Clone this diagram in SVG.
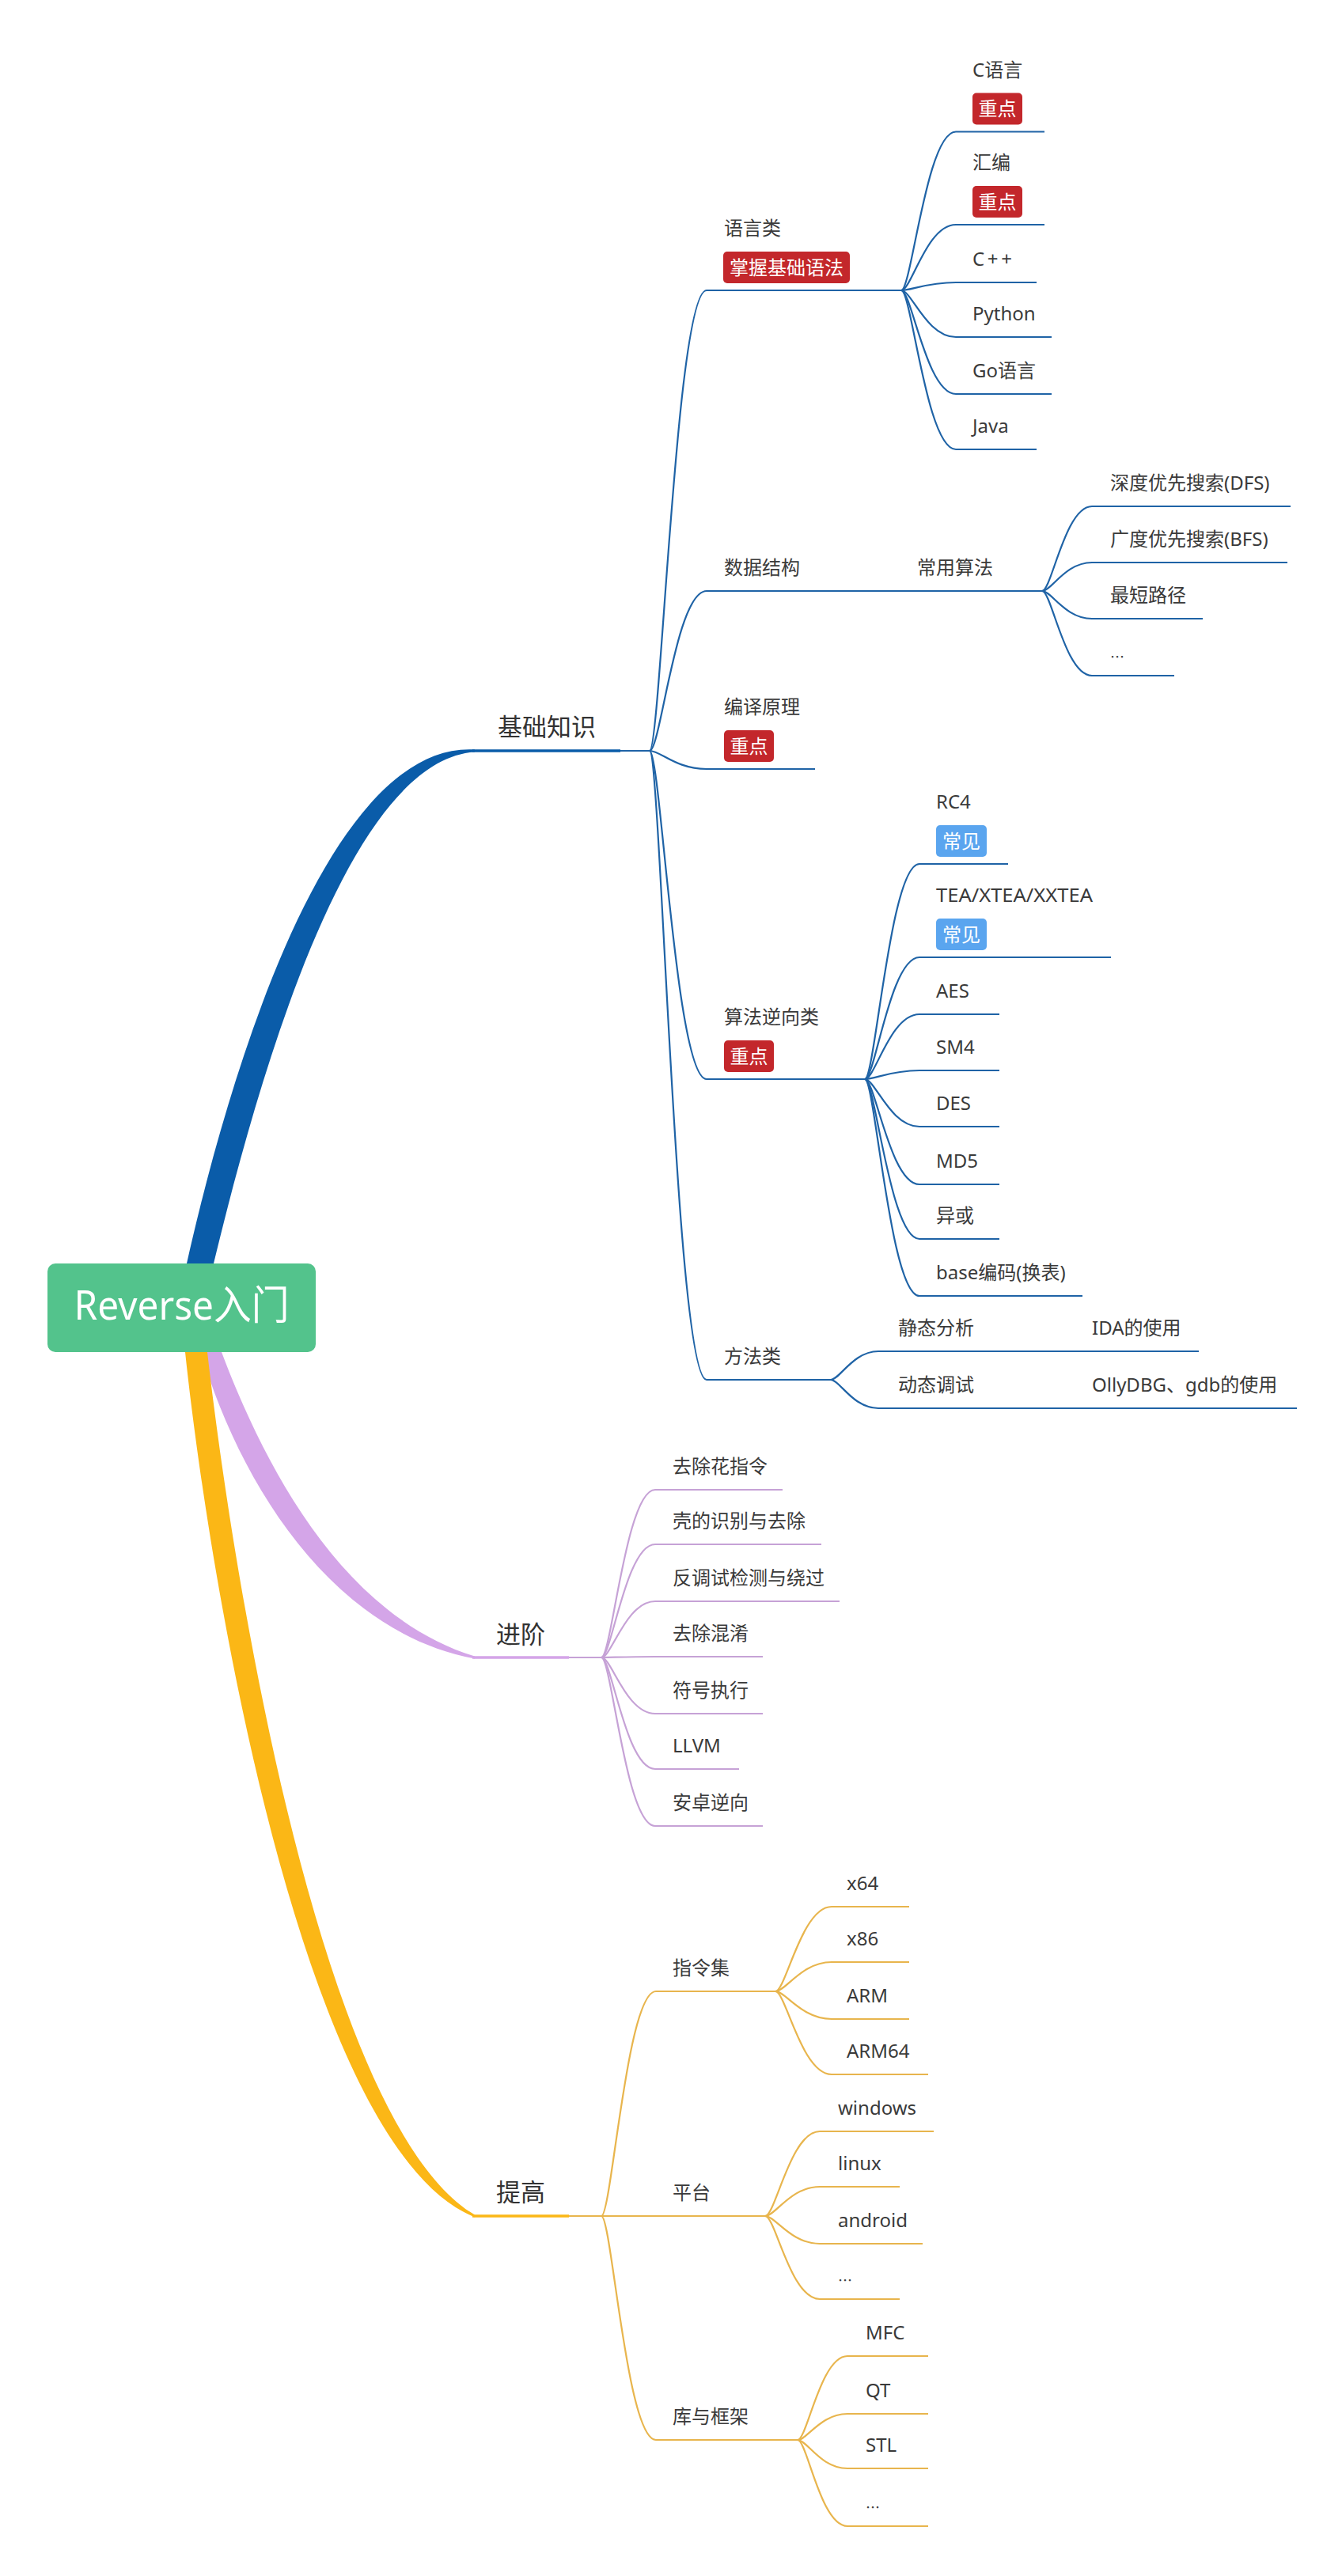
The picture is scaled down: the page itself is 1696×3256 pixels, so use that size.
<svg xmlns="http://www.w3.org/2000/svg" width="1696" height="3256" viewBox="0 0 1696 3256">
<style>
.t{font-family:'Noto Sans','Noto Sans CJK SC',sans-serif;font-size:24px;fill:#3a3a3a}
.t1{font-family:'Noto Sans','Noto Sans CJK SC',sans-serif;font-size:31px;fill:#333333}
.el{font-family:'Noto Sans CJK SC',sans-serif;font-size:18px;fill:#3a3a3a}
.bt{font-family:'Noto Sans','Noto Sans CJK SC',sans-serif;font-size:24px;fill:#ffffff;text-anchor:middle}
.red{fill:#c3272b}
.blue{fill:#5aa5ef}
.lb{fill:none;stroke:#1f63a6;stroke-width:2.2}
.lp{fill:none;stroke:#c6a2d6;stroke-width:2.2}
.ly{fill:none;stroke:#e8b54d;stroke-width:2.2}
</style>
<rect width="1696" height="3256" fill="#ffffff"/>

<g id="connectors">
  <path d="M 236 1597 C 293 1343 418 937 600 947.5 L 600 950.5 C 441 961 328 1357 270 1597 Z" fill="#0a5ca9"/>
  <path d="M 280 1709 C 328 1836 425 2040 600 2093.5 L 600 2096.5 C 415 2062 300 1866 254 1709 Z" fill="#d4a5e8"/>
  <path d="M 234 1709 C 266 2010 385 2716 600 2802.5 L 600 2799.5 C 405 2684 294 1990 262 1709 Z" fill="#fbb716"/>
  <path d="M 597 949 L 784 949" stroke="#0a5ca9" stroke-width="3.5" fill="none"/>
  <path d="M 784 949 L 821 949" class="lb"/>
  <path d="M 597 2095 L 719 2095" stroke="#d4a5e8" stroke-width="3.5" fill="none"/>
  <path d="M 719 2095 L 760 2095" class="lp"/>
  <path d="M 597 2801 L 719 2801" stroke="#fbb716" stroke-width="3.5" fill="none"/>
  <path d="M 719 2801 L 760 2801" class="ly"/>

  <path class="lb" d="M 821 949 C 835 949 854 367 893 367"/>
  <path class="lb" d="M 821 949 C 835 949 854 747 893 747"/>
  <path class="lb" d="M 821 949 C 835 949 854 972 893 972"/>
  <path class="lb" d="M 821 949 C 835 949 854 1364 893 1364"/>
  <path class="lb" d="M 821 949 C 835 949 854 1744 893 1744"/>

  <path class="lb" d="M 1139 367 C 1152 367 1171 166.5 1208 166.5"/>
  <path class="lb" d="M 1139 367 C 1152 367 1171 284 1208 284"/>
  <path class="lb" d="M 1139 367 C 1152 367 1171 357 1208 357"/>
  <path class="lb" d="M 1139 367 C 1152 367 1171 426 1208 426"/>
  <path class="lb" d="M 1139 367 C 1152 367 1171 498 1208 498"/>
  <path class="lb" d="M 1139 367 C 1152 367 1171 568 1208 568"/>

  <path class="lb" d="M 1317 747 C 1329 747 1346 640 1380 640"/>
  <path class="lb" d="M 1317 747 C 1329 747 1346 711 1380 711"/>
  <path class="lb" d="M 1317 747 C 1329 747 1346 782 1380 782"/>
  <path class="lb" d="M 1317 747 C 1329 747 1346 854 1380 854"/>

  <path class="lb" d="M 1093 1364 C 1106 1364 1125 1092 1162 1092"/>
  <path class="lb" d="M 1093 1364 C 1106 1364 1125 1210 1162 1210"/>
  <path class="lb" d="M 1093 1364 C 1106 1364 1125 1282 1162 1282"/>
  <path class="lb" d="M 1093 1364 C 1106 1364 1125 1353 1162 1353"/>
  <path class="lb" d="M 1093 1364 C 1106 1364 1125 1424 1162 1424"/>
  <path class="lb" d="M 1093 1364 C 1106 1364 1125 1497 1162 1497"/>
  <path class="lb" d="M 1093 1364 C 1106 1364 1125 1566 1162 1566"/>
  <path class="lb" d="M 1093 1364 C 1106 1364 1125 1638 1162 1638"/>

  <path class="lb" d="M 1050 1744 C 1061 1744 1078 1708 1110 1708"/>
  <path class="lb" d="M 1050 1744 C 1061 1744 1078 1780 1110 1780"/>

  <path class="lp" d="M 760 2095 C 773 2095 791 1883 828 1883"/>
  <path class="lp" d="M 760 2095 C 773 2095 791 1952 828 1952"/>
  <path class="lp" d="M 760 2095 C 773 2095 791 2024 828 2024"/>
  <path class="lp" d="M 760 2095 C 773 2095 791 2094 828 2094"/>
  <path class="lp" d="M 760 2095 C 773 2095 791 2166 828 2166"/>
  <path class="lp" d="M 760 2095 C 773 2095 791 2236 828 2236"/>
  <path class="lp" d="M 760 2095 C 773 2095 791 2308 828 2308"/>

  <path class="ly" d="M 760 2801 C 773 2801 792 2517 829 2517"/>
  <path class="ly" d="M 760 2801 C 773 2801 792 2801 829 2801"/>
  <path class="ly" d="M 760 2801 C 773 2801 792 3084 829 3084"/>

  <path class="ly" d="M 980 2517 C 993 2517 1013 2410 1051 2410"/>
  <path class="ly" d="M 980 2517 C 993 2517 1013 2480 1051 2480"/>
  <path class="ly" d="M 980 2517 C 993 2517 1013 2552 1051 2552"/>
  <path class="ly" d="M 980 2517 C 993 2517 1013 2622 1051 2622"/>

  <path class="ly" d="M 967 2801 C 980 2801 999 2694 1036 2694"/>
  <path class="ly" d="M 967 2801 C 980 2801 999 2764 1036 2764"/>
  <path class="ly" d="M 967 2801 C 980 2801 999 2836 1036 2836"/>
  <path class="ly" d="M 967 2801 C 980 2801 999 2906 1036 2906"/>

  <path class="ly" d="M 1008 3084 C 1020 3084 1037 2978 1071 2978"/>
  <path class="ly" d="M 1008 3084 C 1020 3084 1037 3051 1071 3051"/>
  <path class="ly" d="M 1008 3084 C 1020 3084 1037 3120 1071 3120"/>
  <path class="ly" d="M 1008 3084 C 1020 3084 1037 3193 1071 3193"/>
</g>

<g id="root">
  <rect x="60" y="1597" width="339" height="112" rx="10" fill="#53c38c"/>
  <text x="229.5" y="1668" font-family="'Noto Sans','Noto Sans CJK SC',sans-serif" font-size="51" fill="#ffffff" text-anchor="middle" textLength="272" lengthAdjust="spacingAndGlyphs">Reverse入门</text>
</g>

<g id="n-jichu"><text class="t1" x="629" y="929.5">基础知识</text></g>
<g id="n-jinjie"><text class="t1" x="627" y="2076.5">进阶</text></g>
<g id="n-tigao"><text class="t1" x="627" y="2781.5">提高</text></g>

<g id="n-yuyanlei">
  <text class="t" x="915" y="297">语言类</text>
  <rect class="red" x="914" y="318" width="160" height="40" rx="5"/>
  <text class="bt" x="994" y="346.5">掌握基础语法</text>
  <path class="lb" d="M 893 367 L 1139 367"/>
</g>
<g id="n-c">
  <text class="t" x="1229" y="96.5">C语言</text>
  <rect class="red" x="1229" y="117.5" width="63" height="40" rx="5"/>
  <text class="bt" x="1260.5" y="146">重点</text>
  <path class="lb" d="M 1208 166.5 L 1320 166.5"/>
</g>
<g id="n-asm">
  <text class="t" x="1229" y="214">汇编</text>
  <rect class="red" x="1229" y="235" width="63" height="40" rx="5"/>
  <text class="bt" x="1260.5" y="263.5">重点</text>
  <path class="lb" d="M 1208 284 L 1320 284"/>
</g>
<g id="n-cpp"><text class="t" x="1229" y="336" textLength="50" lengthAdjust="spacing">C++</text><path class="lb" d="M 1208 357 L 1310 357"/></g>
<g id="n-python"><text class="t" x="1229" y="405">Python</text><path class="lb" d="M 1208 426 L 1329 426"/></g>
<g id="n-go"><text class="t" x="1229" y="477">Go语言</text><path class="lb" d="M 1208 498 L 1329 498"/></g>
<g id="n-java"><text class="t" x="1229" y="547">Java</text><path class="lb" d="M 1208 568 L 1310 568"/></g>

<g id="n-shujujiegou"><text class="t" x="915" y="726">数据结构</text><path class="lb" d="M 893 747 L 1137 747"/></g>
<g id="n-changyongsuanfa"><text class="t" x="1159" y="726">常用算法</text><path class="lb" d="M 1137 747 L 1317 747"/></g>
<g id="n-dfs"><text class="t" x="1403" y="619">深度优先搜索(DFS)</text><path class="lb" d="M 1380 640 L 1631 640"/></g>
<g id="n-bfs"><text class="t" x="1403" y="690">广度优先搜索(BFS)</text><path class="lb" d="M 1380 711 L 1627 711"/></g>
<g id="n-shortest"><text class="t" x="1403" y="761">最短路径</text><path class="lb" d="M 1380 782 L 1520 782"/></g>
<g id="n-ds-more"><text class="el" x="1403" y="837">…</text><path class="lb" d="M 1380 854 L 1484 854"/></g>

<g id="n-bianyi">
  <text class="t" x="915" y="902">编译原理</text>
  <rect class="red" x="915" y="923" width="63" height="40" rx="5"/>
  <text class="bt" x="946.5" y="951.5">重点</text>
  <path class="lb" d="M 893 972 L 1030 972"/>
</g>

<g id="n-suanfa">
  <text class="t" x="915" y="1294">算法逆向类</text>
  <rect class="red" x="915" y="1315" width="63" height="40" rx="5"/>
  <text class="bt" x="946.5" y="1343.5">重点</text>
  <path class="lb" d="M 893 1364 L 1093 1364"/>
</g>
<g id="n-rc4">
  <text class="t" x="1183" y="1022">RC4</text>
  <rect class="blue" x="1183" y="1043" width="64" height="40" rx="5"/>
  <text class="bt" x="1215" y="1071.5">常见</text>
  <path class="lb" d="M 1162 1092 L 1274 1092"/>
</g>
<g id="n-tea">
  <text class="t" x="1183" y="1140" textLength="198" lengthAdjust="spacingAndGlyphs">TEA/XTEA/XXTEA</text>
  <rect class="blue" x="1183" y="1161" width="64" height="40" rx="5"/>
  <text class="bt" x="1215" y="1189.5">常见</text>
  <path class="lb" d="M 1162 1210 L 1404 1210"/>
</g>
<g id="n-aes"><text class="t" x="1183" y="1261">AES</text><path class="lb" d="M 1162 1282 L 1263 1282"/></g>
<g id="n-sm4"><text class="t" x="1183" y="1332">SM4</text><path class="lb" d="M 1162 1353 L 1263 1353"/></g>
<g id="n-des"><text class="t" x="1183" y="1403">DES</text><path class="lb" d="M 1162 1424 L 1263 1424"/></g>
<g id="n-md5"><text class="t" x="1183" y="1476">MD5</text><path class="lb" d="M 1162 1497 L 1263 1497"/></g>
<g id="n-xor"><text class="t" x="1183" y="1545">异或</text><path class="lb" d="M 1162 1566 L 1263 1566"/></g>
<g id="n-base"><text class="t" x="1183" y="1617">base编码(换表)</text><path class="lb" d="M 1162 1638 L 1368 1638"/></g>

<g id="n-fangfa"><text class="t" x="915" y="1723">方法类</text><path class="lb" d="M 893 1744 L 1050 1744"/></g>
<g id="n-static"><text class="t" x="1135" y="1687">静态分析</text><path class="lb" d="M 1110 1708 L 1358 1708"/></g>
<g id="n-ida"><text class="t" x="1380" y="1687">IDA的使用</text><path class="lb" d="M 1358 1708 L 1515 1708"/></g>
<g id="n-dynamic"><text class="t" x="1135" y="1759">动态调试</text><path class="lb" d="M 1110 1780 L 1358 1780"/></g>
<g id="n-olly"><text class="t" x="1380" y="1759">OllyDBG、gdb的使用</text><path class="lb" d="M 1358 1780 L 1639 1780"/></g>

<g id="n-huazhiling"><text class="t" x="850" y="1862">去除花指令</text><path class="lp" d="M 828 1883 L 989 1883"/></g>
<g id="n-ke"><text class="t" x="850" y="1931">壳的识别与去除</text><path class="lp" d="M 828 1952 L 1038 1952"/></g>
<g id="n-fantiaoshi"><text class="t" x="850" y="2003">反调试检测与绕过</text><path class="lp" d="M 828 2024 L 1061 2024"/></g>
<g id="n-hunxiao"><text class="t" x="850" y="2073">去除混淆</text><path class="lp" d="M 828 2094 L 964 2094"/></g>
<g id="n-fuhao"><text class="t" x="850" y="2145">符号执行</text><path class="lp" d="M 828 2166 L 964 2166"/></g>
<g id="n-llvm"><text class="t" x="850" y="2215">LLVM</text><path class="lp" d="M 828 2236 L 934 2236"/></g>
<g id="n-android-re"><text class="t" x="850" y="2287">安卓逆向</text><path class="lp" d="M 828 2308 L 964 2308"/></g>

<g id="n-zhilingji"><text class="t" x="850" y="2496">指令集</text><path class="ly" d="M 829 2517 L 980 2517"/></g>
<g id="n-x64"><text class="t" x="1070" y="2389">x64</text><path class="ly" d="M 1051 2410 L 1149 2410"/></g>
<g id="n-x86"><text class="t" x="1070" y="2459">x86</text><path class="ly" d="M 1051 2480 L 1149 2480"/></g>
<g id="n-arm"><text class="t" x="1070" y="2531">ARM</text><path class="ly" d="M 1051 2552 L 1149 2552"/></g>
<g id="n-arm64"><text class="t" x="1070" y="2601">ARM64</text><path class="ly" d="M 1051 2622 L 1173 2622"/></g>

<g id="n-pingtai"><text class="t" x="850" y="2780">平台</text><path class="ly" d="M 829 2801 L 967 2801"/></g>
<g id="n-windows"><text class="t" x="1059" y="2673">windows</text><path class="ly" d="M 1036 2694 L 1180 2694"/></g>
<g id="n-linux"><text class="t" x="1059" y="2743">linux</text><path class="ly" d="M 1036 2764 L 1137 2764"/></g>
<g id="n-android"><text class="t" x="1059" y="2815">android</text><path class="ly" d="M 1036 2836 L 1166 2836"/></g>
<g id="n-pt-more"><text class="el" x="1059" y="2889">…</text><path class="ly" d="M 1036 2906 L 1137 2906"/></g>

<g id="n-kuyukuangjia"><text class="t" x="850" y="3063">库与框架</text><path class="ly" d="M 829 3084 L 1008 3084"/></g>
<g id="n-mfc"><text class="t" x="1094" y="2957">MFC</text><path class="ly" d="M 1071 2978 L 1173 2978"/></g>
<g id="n-qt"><text class="t" x="1094" y="3030">QT</text><path class="ly" d="M 1071 3051 L 1173 3051"/></g>
<g id="n-stl"><text class="t" x="1094" y="3099">STL</text><path class="ly" d="M 1071 3120 L 1173 3120"/></g>
<g id="n-lib-more"><text class="el" x="1094" y="3176">…</text><path class="ly" d="M 1071 3193 L 1173 3193"/></g>
</svg>
